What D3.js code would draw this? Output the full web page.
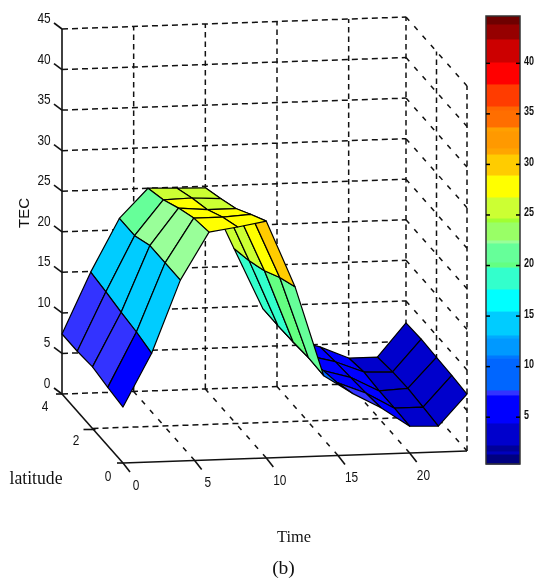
<!DOCTYPE html>
<html><head><meta charset="utf-8">
<style>
html,body{margin:0;padding:0;background:#fff;}
svg{display:block;filter:blur(0.45px);}
</style>
<script src="https://cdn.jsdelivr.net/npm/d3@7"></script>
</head><body>
<svg id="c" width="544" height="579"></svg>
<script>
const timePoints = [0,2,4,6,8,10,12,14,16,18,20,22,24];
const latPoints = [0,1,2,3,4];
const tecLat0 = [6.9,13.4,22.3,28.1,28.6,29.2,21.0,9.9,7.6,5.7,3.3,3.2,7.0];
const tecLat1 = [7.2,13.9,22.3,27.7,27.7,27.9,20.0,10.0,6.8,5.4,3.4,3.4,7.2];
const tecLat2 = [7.6,14.2,22.3,26.8,26.5,26.5,18.7,9.8,6.2,5.2,3.4,3.6,7.3];
const tecLat3 = [7.4,14.6,21.4,25.7,25.8,25.6,17.8,9.7,5.9,5.0,3.6,3.5,7.4];
const tecLat4 = [7.4,14.9,21.4,25.0,24.9,24.8,17.2,9.7,5.7,4.7,3.2,3.2,7.3];
const tecGrid = [tecLat0,tecLat1,tecLat2,tecLat3,tecLat4];

const zTicks = [0,5,10,15,20,25,30,35,40,45];
const timeTicks = [0,5,10,15,20];
const latTicks = [0,2,4];
const barTicks = [5,10,15,20,25,30,35,40];

const bandEdges = [1.31,1.61,2.2,4.38,7.15,7.64,10.8,11.1,12.78,13.08,15.45,17.63,19.8,20.3,22.18,22.48,24.26,24.65,26.73,28.9,30.98,31.58,33.26,33.66,35.34,35.73,37.91,40.08,42.36,43.84];
const bandColors = ["#000080","#0000be","#000099","#0000cc","#0000ff","#3333ff","#0066ff","#0078ff","#0099ff","#00aaff","#00ccff","#00ffff","#33ffcc","#64ff82","#66ff99","#99ff99","#99ff66","#a0ff32","#ccff33","#ffff00","#ffcc00","#ffa500","#ff9900","#ffa000","#ff6e00","#ff6600","#ff3c00","#ff0000","#cc0000","#960000","#6e0000"];
const barDomain = [0.32,44.63];

const svg = d3.select("#c");
const xT = d3.scaleLinear().domain([0,24]).range([0,344]);
const yT = d3.scaleLinear().domain([0,24]).range([0,-12]);
const xL = d3.scaleLinear().domain([0,4]).range([123,62]);
const yL = d3.scaleLinear().domain([0,4]).range([463,394]);
const zS = d3.scaleLinear().domain([0,45]).range([0,-365]);
const P = (t,l,z)=>[xT(t)+xL(l), yT(t)+yL(l)+zS(z)];
const line = d3.line();
const colour = d3.scaleThreshold().domain(bandEdges).range(bandColors);

const gridG = svg.append("g").attr("fill","none").attr("stroke","#111").attr("stroke-width",1.5);
const gl = (pts,dash) => gridG.append("path").attr("d",line(pts)).attr("stroke-dasharray",dash);
const dashH="6 4", dashV="5.5 4", dashD="5 7.5";
zTicks.forEach(z=>{
  gl([P(0,4,z),P(24,4,z)],dashH);
  gl([P(24,4,z),P(24,0,z)],dashD);
});
timeTicks.slice(1).concat([24]).forEach(t=>gl([P(t,4,0),P(t,4,45)],dashV));
[2,0].forEach(l=>gl([P(24,l,0),P(24,l,45)],dashV));
timeTicks.slice(1).forEach(t=>gl([P(t,0,0),P(t,4,0)],dashD));
gl([P(0,2,0),P(24,2,0)],dashH);

// solid axes
const axG = svg.append("g").attr("fill","none").attr("stroke","#111").attr("stroke-width",1.6);
axG.append("path").attr("d",line([P(0,4,0),P(0,4,45)]));
axG.append("path").attr("d",line([P(0,4,0),P(0,0,0)]));
axG.append("path").attr("d",line([P(0,0,0),P(24,0,0)]));
zTicks.forEach(z=>{const p=P(0,4,z);axG.append("path").attr("d",line([p,[p[0]-8,p[1]-6]]));});
timeTicks.forEach(t=>{const p=P(t,0,0);axG.append("path").attr("d",line([p,[p[0]+7,p[1]+9]]));});
latTicks.forEach(l=>{const p=P(0,l,0);axG.append("path").attr("d",line(l==2?[[p[0]-9,p[1]+1],[p[0]+3,p[1]+1]]:[p,[p[0]-6,p[1]]]));});

// surface, painted from back to front
const surf = svg.append("g").attr("stroke","#000").attr("stroke-width",1.2).attr("stroke-linejoin","round");
for(let i=timePoints.length-2;i>=0;i--){
  for(let j=latPoints.length-2;j>=0;j--){
    const a=timePoints[i],b=timePoints[i+1],u=latPoints[j],v=latPoints[j+1];
    surf.append("path")
      .attr("d",line([P(a,u,tecGrid[j][i]),P(b,u,tecGrid[j][i+1]),P(b,v,tecGrid[j+1][i+1]),P(a,v,tecGrid[j+1][i])])+"Z")
      .attr("fill",colour(tecGrid[j][i]));
  }
}

// tick labels
const sans = "'Liberation Sans',Arial,sans-serif";
const lab = (x,y,s,size,fam,extra)=>{
  const t=svg.append("text").attr("x",x).attr("y",y).attr("text-anchor","middle").attr("dominant-baseline","central")
   .attr("font-family",fam).attr("font-size",size).attr("fill","#111").text(s);
  if(extra) extra(t); return t;
};
const squeeze = t => t.attr("textLength",String(t.text()).length*6.6).attr("lengthAdjust","spacingAndGlyphs");
zTicks.forEach(z=>{const p=P(0,4,z);lab(z<10?p[0]-15:p[0]-18,p[1]-11.5,z,15,sans,squeeze);});
latTicks.forEach(l=>{lab(l==0?108:l==2?76:45,l==0?475:l==2?439:405,l,15,sans,squeeze);});
timeTicks.forEach(t=>{const p=P(t,0,0);lab(p[0]+13+(t/5)*0.2,p[1]+21,t,15,sans,squeeze);});

const serif="'Liberation Serif','Times New Roman',serif";
lab(36,477,"latitude",19,serif,t=>t.attr("textLength",53).attr("lengthAdjust","spacingAndGlyphs"));
lab(294,536,"Time",17,serif,t=>t.attr("textLength",34).attr("lengthAdjust","spacingAndGlyphs"));
lab(283.5,567,"(b)",19.5,serif);
lab(0,0,"TEC",15,sans,t=>t.attr("x",null).attr("y",null).attr("transform","translate(23,213) rotate(-90)"));

// colour bar
const barY = d3.scaleLinear().domain(barDomain).range([464,16]);
const bar = svg.append("g");
const lows=[barDomain[0]].concat(bandEdges), highs=bandEdges.concat([barDomain[1]]);
bar.selectAll("rect.b").data(bandColors).join("rect").attr("class","b")
  .attr("x",486).attr("width",34)
  .attr("y",(d,i)=>barY(highs[i])).attr("height",(d,i)=>barY(lows[i])-barY(highs[i])+0.5)
  .attr("fill",d=>d);
bar.append("rect").attr("x",486).attr("y",16).attr("width",34).attr("height",448).attr("fill","none").attr("stroke","#333").attr("stroke-width",1.5);
const axR = bar.append("g").attr("transform","translate(520,0)").call(d3.axisRight(barY).tickValues(barTicks).tickSizeInner(-4).tickSizeOuter(0));
const axLft = bar.append("g").attr("transform","translate(486,0)").call(d3.axisLeft(barY).tickValues(barTicks).tickSizeInner(-4).tickSizeOuter(0).tickFormat(""));
[axR,axLft].forEach(a=>{a.select(".domain").remove();a.selectAll("line").attr("stroke","#000").attr("stroke-width",1.5);});
axR.selectAll("text").attr("font-family",sans).attr("font-size",12).attr("font-weight","bold").attr("fill","#111")
  .attr("dy","0.12em").attr("x",4)
  .attr("textLength",function(){return this.textContent.length*5;}).attr("lengthAdjust","spacingAndGlyphs");
</script>
</body></html>
